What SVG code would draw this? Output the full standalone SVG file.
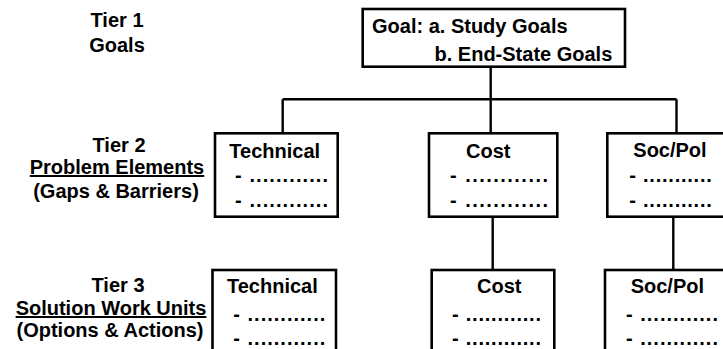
<svg xmlns="http://www.w3.org/2000/svg" width="723" height="349" viewBox="0 0 723 349">
<style>
  text { font-family: "Liberation Sans", Arial, sans-serif; font-weight: bold; font-size: 20px; fill: #000; }
  .lbl { text-anchor: middle; }
  .u { text-decoration: underline; }
  .box { fill: #fff; stroke: #000; stroke-width: 2.6; }
  .conn { fill: none; stroke: #000; stroke-width: 2.4; }
</style>
<rect width="723" height="349" fill="#fff"/>

<g id="tier-labels">
  <text class="lbl" x="117" y="27">Tier 1</text>
  <text class="lbl" x="117" y="52">Goals</text>
  <text class="lbl" x="119" y="152">Tier 2</text>
  <text class="lbl u" x="117" y="174">Problem Elements</text>
  <text class="lbl" x="116" y="198">(Gaps &amp; Barriers)</text>
  <text class="lbl" x="118" y="292">Tier 3</text>
  <text class="lbl u" x="111" y="315">Solution Work Units</text>
  <text class="lbl" x="110" y="337">(Options &amp; Actions)</text>
</g>

<g id="connectors">
  <path class="conn" d="M490.7 66.7 V99.3 M282.7 99.3 H676.5 M282.7 99.3 V133.3 M490.7 99.3 V133.3 M676.5 99.3 V133.3"/>
  <path class="conn" d="M492.7 216.7 V269.5 M673.3 216.7 V269.5"/>
</g>

<g id="goal">
  <rect class="box" x="362.7" y="9" width="262.3" height="57.7"/>
  <text x="372" y="33">Goal: a. Study Goals</text>
  <text x="434.5" y="61">b. End-State Goals</text>
</g>

<g id="t2-technical">
  <rect class="box" x="215" y="133.3" width="122.7" height="83.4"/>
  <text x="229.3" y="157.5">Technical</text>
  <text x="235" y="181.7" textLength="93">- ............</text>
  <text x="235" y="206.5" textLength="93">- ............</text>
</g>

<g id="t2-cost">
  <rect class="box" x="429" y="133.3" width="128.3" height="83.4"/>
  <text x="466" y="157.5">Cost</text>
  <text x="450" y="181.7" textLength="98">- ............</text>
  <text x="450" y="206.5" textLength="98">- ............</text>
</g>

<g id="t2-socpol">
  <rect class="box" x="607.3" y="133.3" width="130" height="83.4"/>
  <text x="633.3" y="157">Soc/Pol</text>
  <text x="629.3" y="181.7" textLength="82.5">- ...........</text>
  <text x="629.3" y="206.5" textLength="82.5">- ...........</text>
</g>

<g id="t3-technical">
  <rect class="box" x="212.5" y="270" width="123.5" height="100"/>
  <text x="227" y="293.3">Technical</text>
  <text x="233.3" y="321" textLength="92">- ............</text>
  <text x="233.3" y="345" textLength="92">- ............</text>
</g>

<g id="t3-cost">
  <rect class="box" x="431.7" y="270" width="122.6" height="100"/>
  <text x="477" y="293.3">Cost</text>
  <text x="452" y="321" textLength="89">- ............</text>
  <text x="452" y="345" textLength="89">- ............</text>
</g>

<g id="t3-socpol">
  <rect class="box" x="605" y="270" width="130" height="100"/>
  <text x="630.7" y="293.3">Soc/Pol</text>
  <text x="626" y="321" textLength="92">- ............</text>
  <text x="626" y="345" textLength="92">- ............</text>
</g>
</svg>
